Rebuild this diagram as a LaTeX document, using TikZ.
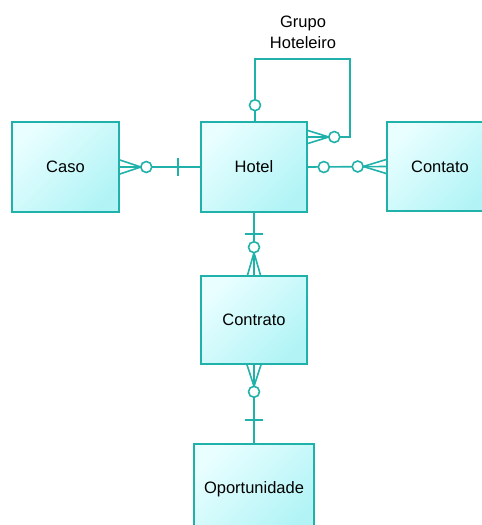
\documentclass[tikz,border=0pt]{standalone}
\usepackage{fontspec}
\setmainfont{Liberation Sans}
\usetikzlibrary{calc}

\definecolor{edge}{RGB}{32,178,170}
\definecolor{boxlight}{RGB}{232,254,255}
\definecolor{boxdark}{RGB}{178,244,246}

\tikzset{
  entity/.style={draw=edge, line width=1.6pt,
    top color=boxlight, bottom color=boxdark, shading angle=45,
    inner sep=0pt, align=center, text=black,
    font=\fontsize{16.5}{21}\selectfont},
  rel/.style={draw=edge, line width=1.6pt},
  ring/.style={draw=edge, line width=1.6pt, fill=white},
  lbl/.style={align=center, text=black, font=\fontsize{16.5}{21}\selectfont}
}

\begin{document}
\begin{tikzpicture}[x=1pt, y=-1pt]
  \useasboundingbox (0,0) rectangle (482,525);
  \clip (0,0) rectangle (482,525);

  % entities
  \node[entity, minimum width=106pt, minimum height=90pt] (hotel) at (254,167) {Hotel};
  \node[entity, minimum width=107pt, minimum height=90pt] (caso) at (65.5,167) {Caso};
  \node[entity, minimum width=106pt, minimum height=89pt] (contato) at (440,166.5) {Contato};
  \node[entity, minimum width=106pt, minimum height=88pt] (contrato) at (254,320) {Contrato};
  \node[entity, minimum width=120pt, minimum height=90pt] (oport) at (254,489) {Oportunidade};

  % self relationship label
  \node[lbl] (grupo) at (303,32) {Grupo\\Hoteleiro};

  % Caso -- Hotel
  \draw[rel] (caso.east) -- (hotel.west);
  \draw[rel] ($(caso.east)+(0,-7)$) -- ($(caso.east)+(21,0)$)
             ($(caso.east)+(0,7)$) -- ($(caso.east)+(21,0)$);
  \draw[ring] ($(caso.east)+(26.5,0)$) circle (5.5);
  \draw[rel] ($(hotel.west)+(-22,-9)$) -- ($(hotel.west)+(-22,9)$);

  % Hotel -- Contato
  \draw[rel] (hotel.east) -- (contato.west);
  \draw[rel] ($(contato.west)+(0,-7)$) -- ($(contato.west)+(-23,0)$)
             ($(contato.west)+(0,7)$) -- ($(contato.west)+(-23,0)$);
  \draw[ring] ($(hotel.east)+(16,0)$) circle (5.5);
  \draw[ring] ($(contato.west)+(-28.5,0)$) circle (5.5);

  % Hotel self relationship (Grupo Hoteleiro)
  \coordinate (loopend) at ($(hotel.east)+(0,-30)$);
  \draw[rel] ($(hotel.north)+(1,0)$) -- ++(0,-62) -| ($(loopend)+(42,0)$) -- (loopend);
  \draw[rel] ($(loopend)+(0,-6.5)$) -- ($(loopend)+(21,0)$)
             ($(loopend)+(0,6.5)$) -- ($(loopend)+(21,0)$);
  \draw[ring] ($(loopend)+(26.5,0)$) circle (5.5);
  \draw[ring] ($(hotel.north)+(1,-16)$) circle (5.5);

  % Hotel -- Contrato
  \draw[rel] (hotel.south) -- (contrato.north);
  \draw[rel] ($(hotel.south)+(-9,21)$) -- ($(hotel.south)+(9,21)$);
  \draw[rel] ($(contrato.north)+(-6.5,0)$) -- ($(contrato.north)+(0,-22.5)$)
             ($(contrato.north)+(6.5,0)$) -- ($(contrato.north)+(0,-22.5)$);
  \draw[ring] ($(contrato.north)+(0,-28)$) circle (5.5);

  % Contrato -- Oportunidade
  \draw[rel] (contrato.south) -- (oport.north);
  \draw[rel] ($(contrato.south)+(-7,0)$) -- ($(contrato.south)+(0,21.5)$)
             ($(contrato.south)+(7,0)$) -- ($(contrato.south)+(0,21.5)$);
  \draw[ring] ($(contrato.south)+(0,27)$) circle (5.5);
  \draw[rel] ($(oport.north)+(-9,-23.5)$) -- ($(oport.north)+(9,-23.5)$);
\end{tikzpicture}
\end{document}
